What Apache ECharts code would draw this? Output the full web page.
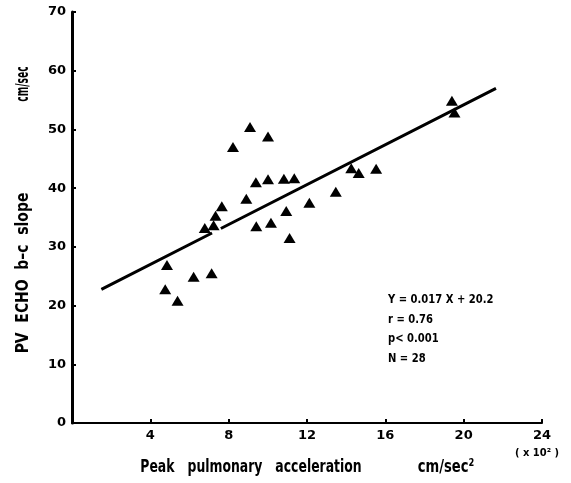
<!DOCTYPE html>
<html>
<head>
<meta charset="utf-8">
<script src="https://cdn.jsdelivr.net/npm/echarts@6/dist/echarts.min.js"></script>
<style>
  html, body { margin: 0; padding: 0; background: #fff; }
  #chart { width: 571px; height: 483px; }
</style>
</head>
<body>
<div id="chart"></div>
<script>
// Peak pulmonary acceleration (x10^2 cm/sec^2) vs PV echo b-c slope (cm/sec)
var accel = [4.85, 4.76, 5.39, 6.21, 7.13, 6.78, 7.23, 7.33, 7.65, 8.22,
             9.09, 8.90, 9.39, 9.41, 10.01, 10.01, 10.16, 10.82, 10.94, 11.11,
             11.35, 12.12, 13.47, 14.26, 14.64, 15.53, 19.40, 19.53];
var slope = [26.9, 22.8, 20.8, 24.9, 25.5, 33.2, 33.7, 35.3, 36.9, 47.0,
             50.4, 38.2, 41.0, 33.5, 48.8, 41.5, 34.1, 41.6, 36.1, 31.5,
             41.7, 37.5, 39.4, 43.4, 42.6, 43.3, 54.9, 52.9];

// Regression Y = 0.017 X + 20.2 with X in cm/sec^2 (axis is x10^2)
var regSlope = 0.017;
var regIntercept = 20.2;
var regPieces = [[1.5, 7.15], [7.6, 21.65]];

var xTicks = [0, 4, 8, 12, 16, 20, 24];
var yTicks = [0, 10, 20, 30, 40, 50, 60, 70];
var statLines = ['Y = 0.017 X + 20.2', 'r = 0.76', 'p< 0.001', 'N = 28'];

var FONT = "'DejaVu Sans', 'Liberation Sans', sans-serif";

var points = accel.map(function (x, i) { return [x, slope[i]]; });
var regLine = [];
regPieces.forEach(function (seg, k) {
  if (k > 0) regLine.push([null, null]);
  seg.forEach(function (x) { regLine.push([x, regSlope * 100 * x + regIntercept]); });
});

// condensed bold label helper (horizontal squeeze along the text direction)
function label(text, x, y, size, squeeze, rotated, align) {
  return {
    type: 'text', x: x, y: y,
    rotation: rotated ? Math.PI / 2 : 0,
    scaleX: squeeze, scaleY: 1,
    style: { text: text, fill: '#000', font: 'bold ' + size + 'px ' + FONT,
             align: align || 'center', verticalAlign: 'middle' }
  };
}

var statLabels = statLines.map(function (t, i) {
  return label(t, 388, 300 + i * 19.5, 13, 0.77, false, 'left');
});

var chart = echarts.init(document.getElementById('chart'));
chart.setOption({
  animation: false,
  backgroundColor: '#ffffff',
  grid: { left: 72, top: 12, width: 470, height: 411, containLabel: false },
  xAxis: {
    type: 'value', min: 0, max: 24, interval: 4,
    axisLine: { show: true, lineStyle: { color: '#000', width: 2 } },
    axisTick: { show: true, inside: true, length: 4, lineStyle: { color: '#000', width: 2 } },
    axisLabel: {
      color: '#000', fontFamily: FONT, fontWeight: 'bold', fontSize: 13, margin: 6,
      formatter: function (v) { return v === 0 ? '' : String(v); }
    },
    splitLine: { show: false }
  },
  yAxis: {
    type: 'value', min: 0, max: 70, interval: 10,
    axisLine: { show: true, lineStyle: { color: '#000', width: 3 } },
    axisTick: { show: true, inside: true, length: 4, lineStyle: { color: '#000', width: 2 } },
    axisLabel: { color: '#000', fontFamily: FONT, fontWeight: 'bold', fontSize: 13, margin: 6 },
    splitLine: { show: false }
  },
  series: [
    {
      type: 'line',
      data: regLine,
      symbol: 'none',
      connectNulls: false,
      lineStyle: { color: '#000', width: 3 },
      z: 2
    },
    {
      type: 'scatter',
      data: points,
      symbol: 'triangle',
      symbolSize: [12, 10],
      itemStyle: { color: '#000', opacity: 1 },
      z: 3
    }
  ],
  graphic: [
    label('PV  ECHO  b\u2013c  slope', 24, 273, 17, 0.82, true),
    label('cm/sec', 24, 84, 17, 0.54, true),
    label('Peak   pulmonary   acceleration', 251, 467, 18, 0.69, false),
    label('cm/sec\u00b2', 446, 467, 18, 0.73, false),
    label('( x 10\u00b2 )', 537, 453, 11, 0.9, false)
  ].concat(statLabels)
});
</script>
</body>
</html>
